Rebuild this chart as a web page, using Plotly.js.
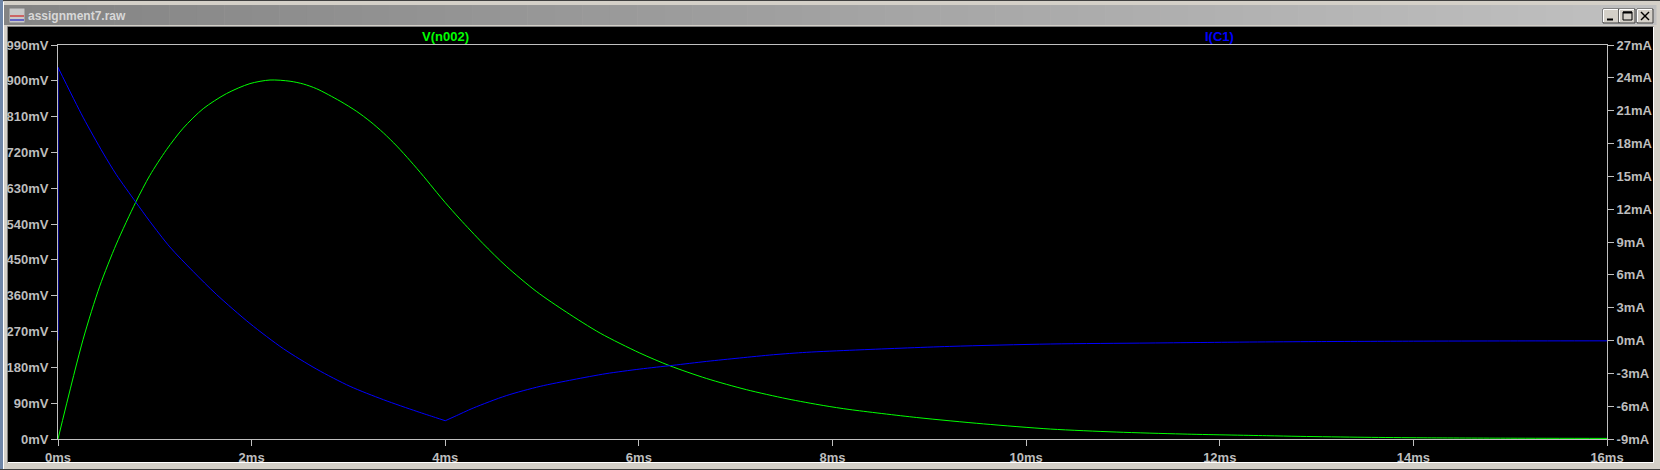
<!DOCTYPE html>
<html><head><meta charset="utf-8">
<script src="https://cdn.plot.ly/plotly-3.0.1.min.js"></script>
<style>html,body{margin:0;padding:0;background:#d4d0c8;overflow:hidden}</style>
</head><body><div id="chart" style="width:1660px;height:470px"></div>
<script>
// ---- data (time in ms) ----
const timeV = [0, 0.259, 0.431, 0.603, 0.803, 0.948, 1.121, 1.293, 1.5, 1.741, 1.983, 2.19, 2.397, 2.534, 2.672, 2.914, 3.086, 3.224, 3.362, 3.5, 3.638, 3.776, 3.914, 4.0, 4.15, 4.39, 4.63, 4.94, 5.25, 5.6, 6.01, 6.32, 6.7, 7.11, 7.53, 7.91, 8.18, 8.87, 9.56, 10.25, 10.93, 11.62, 12.48, 12.83, 13.5, 14.1, 15, 16];
const vN002 = [0, 250, 384, 490, 595, 662, 727, 781, 830, 868, 893, 902, 899, 892, 880, 849, 823, 798, 769, 736, 699, 660, 619, 594, 553, 491, 434, 371, 319, 266, 216, 184, 152, 124, 101, 84, 74, 54, 38, 25, 17.5, 12.5, 8.3, 6.6, 4.3, 3, 2, 1.5];
const timeI = [0, 0, 0.259, 0.466, 0.603, 0.803, 0.948, 1.155, 1.397, 1.638, 1.983, 2.328, 2.672, 3.017, 3.362, 3.707, 3.9, 4.0, 4.1, 4.29, 4.63, 4.98, 5.32, 5.66, 6.01, 6.35, 6.7, 7.04, 7.39, 7.73, 8.24, 9.21, 10.25, 11.28, 12.31, 13, 14, 15, 16];
const iC1 = [0, 24.96, 20.4, 17.13, 15.15, 12.65, 10.89, 8.55, 6.3, 4.2, 1.55, -0.75, -2.62, -4.19, -5.41, -6.48, -7.04, -7.33, -6.93, -6.17, -5.04, -4.19, -3.58, -3.03, -2.61, -2.27, -1.91, -1.6, -1.3, -1.08, -0.87, -0.54, -0.32, -0.23, -0.14, -0.1, -0.06, -0.04, -0.03];
const sourceOffTime = 4.0;   // ms, where I(C1) has its corner

const xTickVals = [0, 2, 4, 6, 8, 10, 12, 14, 16];
const xTickText = ['0ms', '2ms', '4ms', '6ms', '8ms', '10ms', '12ms', '14ms', '16ms'];
const yTickVals = [0, 90, 180, 270, 360, 450, 540, 630, 720, 810, 900, 990];
const yTickText = ['0mV', '90mV', '180mV', '270mV', '360mV', '450mV', '540mV', '630mV', '720mV', '810mV', '900mV', '990mV'];
const y2TickVals = [-9, -6, -3, 0, 3, 6, 9, 12, 15, 18, 21, 24, 27];
const y2TickText = ['-9mA', '-6mA', '-3mA', '0mA', '3mA', '6mA', '9mA', '12mA', '15mA', '18mA', '21mA', '24mA', '27mA'];
const traceNames = ['V(n002)', 'I(C1)'];
const windowTitle = 'assignment7.raw';

// ---- geometry helpers (pixel -> paper) ----
const W = 1660, H = 470, L = 58, R = 53, T = 45, B = 31;
const pw = W - L - R, ph = H - T - B;
const px = p => (p - L) / pw;
const py = p => (H - B - p) / ph;
const rect = (x0, y0, x1, y1, fill, line, lw) => ({type: 'rect', xref: 'paper', yref: 'paper', x0: px(x0), x1: px(x1), y0: py(y0), y1: py(y1), fillcolor: fill, line: {color: line || fill, width: lw === undefined ? 0 : lw}, layer: 'below'});
const seg = (x0, y0, x1, y1, color, w, layer) => ({type: 'line', xref: 'paper', yref: 'paper', x0: px(x0), x1: px(x1), y0: py(y0), y1: py(y1), line: {color: color, width: w}, layer: layer || 'above'});

const shapes = [];
shapes.push(rect(0, 0, W, 1, '#404040'));
const nStrip = 60, tbX0 = 4, tbX1 = 1656;
for (let i = 0; i < nStrip; i++) {
  const f = i / (nStrip - 1);
  const c = Math.round(0x84 + f * (0xc0 - 0x84));
  const col = 'rgb(' + c + ',' + c + ',' + c + ')';
  shapes.push(rect(tbX0 + (tbX1 - tbX0) * i / nStrip, 5, tbX0 + (tbX1 - tbX0) * (i + 1) / nStrip + 0.5, 25, col));
}
shapes.push(rect(0, 0, 3, H, '#6f86a8'));
shapes.push(seg(3.5, 2, 3.5, H, '#ffffff', 1, 'below'));
shapes.push(rect(8, 27, 1653, 462, '#000000'));
shapes.push(seg(7.5, 26.5, 1653.5, 26.5, '#808080', 1, 'below'));
shapes.push(seg(7.5, 26.5, 7.5, 462.5, '#808080', 1, 'below'));
shapes.push(seg(8, 462.5, 1653.5, 462.5, '#ffffff', 1, 'below'));
shapes.push(seg(1653.5, 27, 1653.5, 462.5, '#ffffff', 1, 'below'));
shapes.push(seg(0, 469.5, W, 469.5, '#404040', 1, 'below'));
shapes.push(rect(9, 8, 25, 23, '#c8c8c8', '#808080', 1));
shapes.push(seg(10, 16, 24, 16, '#d00000', 1, 'below'));
shapes.push(seg(10, 20, 24, 20, '#0000c0', 1, 'below'));
const btn = [[1603, 1619], [1619, 1635], [1637, 1653]];
btn.forEach(b => {
  shapes.push(rect(b[0], 9, b[1], 23, '#d4d0c8', '#404040', 1));
  shapes.push(seg(b[0] + 0.5, 9.5, b[1] - 1, 9.5, '#ffffff', 1, 'below'));
  shapes.push(seg(b[0] + 0.5, 9.5, b[0] + 0.5, 22, '#ffffff', 1, 'below'));
});
shapes.push(seg(1607, 19.5, 1613, 19.5, '#000000', 2, 'below'));
shapes.push(rect(1623, 12, 1632, 20, 'rgba(0,0,0,0)', '#000000', 1));
shapes.push(seg(1623, 12.5, 1632, 12.5, '#000000', 2, 'below'));
shapes.push(seg(1641, 12, 1649, 20, '#000000', 1.5, 'below'));
shapes.push(seg(1649, 12, 1641, 20, '#000000', 1.5, 'below'));

const axisGray = '#c0c0c0';
const tickFont = {family: 'Liberation Sans, Arial, sans-serif', size: 13, color: '#bdbdbd', weight: 'bold'};

// split I(C1) into: initial step, charging part, discharging part (sharp corner at source-off)
const kIdx = timeI.indexOf(sourceOffTime);
const blueLine = {color: '#0000ff', width: 1};
const data = [
  {x: timeV, y: vN002, type: 'scatter', mode: 'lines', name: traceNames[0], line: {color: '#00ff00', width: 1, shape: 'spline', smoothing: 0.8}, yaxis: 'y', hoverinfo: 'skip'},
  {x: timeI.slice(0, 2), y: iC1.slice(0, 2), type: 'scatter', mode: 'lines', name: traceNames[1], line: blueLine, yaxis: 'y2', hoverinfo: 'skip'},
  {x: timeI.slice(1, kIdx + 1), y: iC1.slice(1, kIdx + 1), type: 'scatter', mode: 'lines', name: traceNames[1], line: Object.assign({shape: 'spline', smoothing: 0.8}, blueLine), yaxis: 'y2', hoverinfo: 'skip'},
  {x: timeI.slice(kIdx), y: iC1.slice(kIdx), type: 'scatter', mode: 'lines', name: traceNames[1], line: Object.assign({shape: 'spline', smoothing: 0.8}, blueLine), yaxis: 'y2', hoverinfo: 'skip'}
];

const layout = {
  width: W, height: H,
  margin: {l: L, r: R, t: T, b: B, pad: 0},
  paper_bgcolor: '#d4d0c8',
  plot_bgcolor: '#000000',
  showlegend: false,
  xaxis: {range: [0, 16], tickmode: 'array', tickvals: xTickVals, ticktext: xTickText, showgrid: false, zeroline: false,
          showline: true, linecolor: axisGray, linewidth: 1, mirror: true, ticks: 'outside', ticklen: 6, tickcolor: axisGray, tickwidth: 1,
          tickfont: tickFont, fixedrange: true},
  yaxis: {range: [0, 990], tickmode: 'array', tickvals: yTickVals, ticktext: yTickText, showgrid: false, zeroline: false,
          showline: true, linecolor: axisGray, linewidth: 1, ticks: 'outside', ticklen: 6, tickcolor: axisGray, tickwidth: 1,
          tickfont: tickFont, fixedrange: true},
  yaxis2: {range: [-9, 27], overlaying: 'y', side: 'right', tickmode: 'array', tickvals: y2TickVals, ticktext: y2TickText, showgrid: false, zeroline: false,
           showline: true, linecolor: axisGray, linewidth: 1, ticks: 'outside', ticklen: 6, tickcolor: axisGray, tickwidth: 1,
           tickfont: tickFont, fixedrange: true},
  shapes: shapes,
  annotations: [
    {xref: 'paper', yref: 'paper', x: px(445), y: py(36), xanchor: 'center', yanchor: 'middle', showarrow: false, text: traceNames[0],
     font: {family: 'Liberation Sans, Arial, sans-serif', size: 13, color: '#00ff00', weight: 'bold'}},
    {xref: 'paper', yref: 'paper', x: px(1219), y: py(36), xanchor: 'center', yanchor: 'middle', showarrow: false, text: traceNames[1],
     font: {family: 'Liberation Sans, Arial, sans-serif', size: 13, color: '#0000ff', weight: 'bold'}},
    {xref: 'paper', yref: 'paper', x: px(26), y: py(16), xanchor: 'left', yanchor: 'middle', showarrow: false, text: windowTitle,
     font: {family: 'Liberation Sans, Arial, sans-serif', size: 12, color: '#d8d8d8', weight: 'bold'}}
  ]
};

Plotly.newPlot('chart', data, layout, {staticPlot: true, displayModeBar: false});
</script></body></html>
